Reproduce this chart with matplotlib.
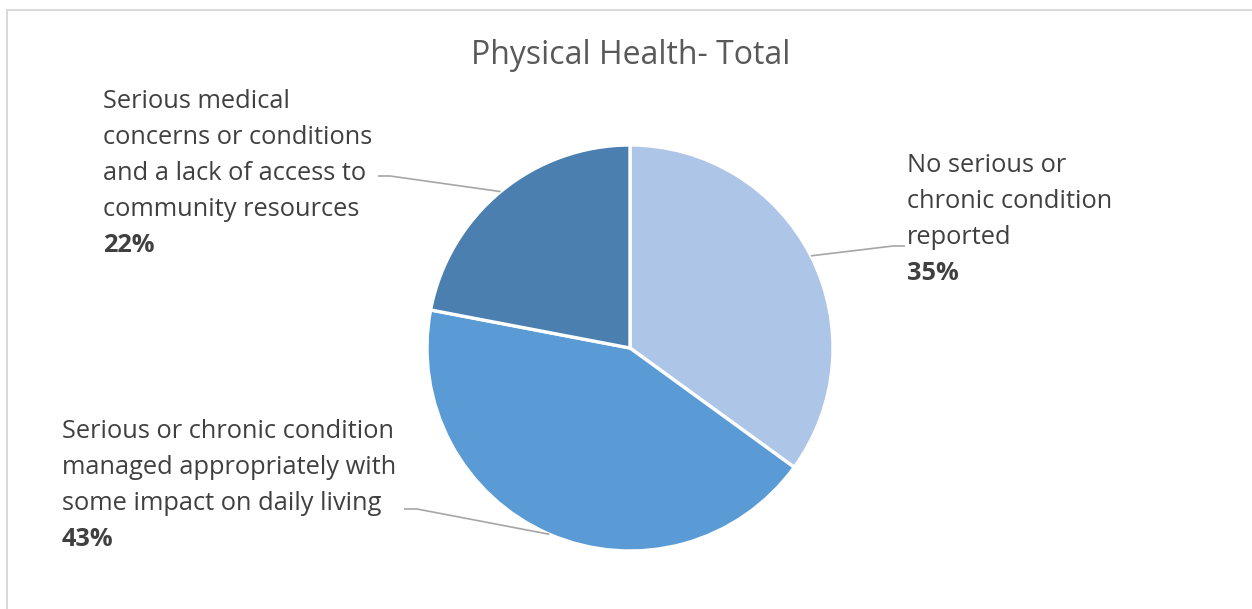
import numpy as np
import matplotlib
matplotlib.use("Agg")
import matplotlib.pyplot as plt
from matplotlib.patches import Rectangle

plt.rcParams['font.family'] = ['Open Sans', 'DejaVu Sans']

# Data
title = "Physical Health- Total"
categories = [
    "No serious or\nchronic condition\nreported",
    "Serious or chronic condition\nmanaged appropriately with\nsome impact on daily living",
    "Serious medical\nconcerns or conditions\nand a lack of access to\ncommunity resources",
]
shares = [35, 43, 22]
colors = ["#ADC5E6", "#5B9BD5", "#4A7FB0"]

W, H = 1252, 609
fig = plt.figure(figsize=(W / 100, H / 100), dpi=100)
ax = fig.add_axes([0, 0, 1, 1])

cx, cy, R = 630, H - 348, 203
wedges, _ = ax.pie(shares, colors=colors, startangle=90, counterclock=False,
                   center=(cx, cy), radius=R,
                   wedgeprops=dict(edgecolor="white", linewidth=2.4))
ax.set_xlim(0, W)
ax.set_ylim(0, H)
ax.set_aspect("equal")
ax.axis("off")

# outer frame
ax.add_patch(Rectangle((6.5, -20), W + 40, H - 9.5 + 20, fill=False,
                       edgecolor="#D9D9D9", linewidth=1.4, zorder=0))

ax.text(631, H - 55, title, ha="center", va="center", fontsize=23,
        color="#595959")

# label layout: (text left x, first line y, leader knee, leader tail x)
layout = [
    dict(x=907, y0=165, knee=(893, 246), tail=905),
    dict(x=62, y0=431, knee=(417, 509), tail=404),
    dict(x=103, y0=101, knee=(390, 176), tail=378),
]

label_size = 18.3
line_gap = 36
for w, cat, s, lay in zip(wedges, categories, shares, layout):
    lines = cat.split("\n")
    for i, ln in enumerate(lines):
        ax.text(lay["x"], H - (lay["y0"] + i * line_gap), ln, ha="left",
                va="center", fontsize=label_size, color="#404040")
    ax.text(lay["x"], H - (lay["y0"] + len(lines) * line_gap), f"{s}%",
            ha="left", va="center", fontsize=label_size, fontweight="bold",
            color="#404040")
    mid = np.deg2rad((w.theta1 + w.theta2) / 2)
    px, py = cx + R * np.cos(mid), cy + R * np.sin(mid)
    kx, ky = lay["knee"]
    ax.plot([px, kx, lay["tail"]], [py, H - ky, H - ky], color="#A6A6A6",
            linewidth=1.2, solid_capstyle="butt", zorder=3)

fig.savefig("out.png", dpi=100, facecolor="white")
